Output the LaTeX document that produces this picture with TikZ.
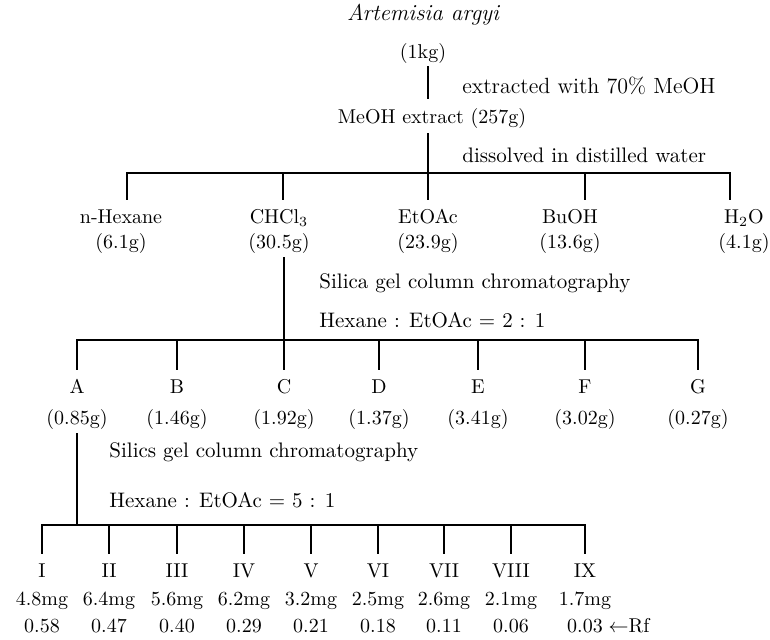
\documentclass[tikz,border=0pt]{standalone}
\usepackage{amsmath,amssymb}
\usepackage{tikz}
\usetikzlibrary{positioning}
\tikzset{
  frac/.style={font=\fontsize{10}{12}\selectfont, inner sep=1pt, text height=7pt, text depth=2pt},
  note/.style={font=\fontsize{10.5}{12}\selectfont, anchor=west, inner sep=0pt, text height=7.5pt, text depth=2pt},
  branch/.style={line width=0.8pt},
  drop/.style={branch, shorten >=3.5pt},
  stem/.style={branch, shorten <=1pt}}

\begin{document}
\begin{tikzpicture}[x=0.5pt, y=-0.5pt, node distance=1.5pt]
  \useasboundingbox (0,0) rectangle (770,639);
  % crude extract
  \node[frac, font=\fontsize{11.5}{13}\selectfont\itshape] (plant) at (423,15) {Artemisia argyi};
  \node[frac] (kg) at (423,53) {(1kg)};
  \node[frac] (meoh) at (432,118) {MeOH extract (257g)};
  \node[note, font=\fontsize{11}{13}\selectfont] (ext) at (462,88) {extracted with 70\% MeOH};
  \node[note] (dis) at (462,157) {dissolved in distilled water};
  % solvent partition
  \coordinate (j1) at (127,173); \coordinate (j2) at (283,173); \coordinate (j3) at (428,173);
  \coordinate (j4) at (585,173); \coordinate (j5) at (730,173);
  \node[frac] (hex) at (121,218) {n-Hexane};
  \node[frac] (chl) at (279,218) {CHCl$_3$};
  \node[frac] (eto) at (428,218) {EtOAc};
  \node[frac] (buoh) at (570,218) {BuOH};
  \node[frac] (wat) at (744,218) {H$_2$O};
  \node[frac, below=of hex] (hexw) {(6.1g)};
  \node[frac, below=of chl] (chlw) {(30.5g)};
  \node[frac, below=of eto] (etow) {(23.9g)};
  \node[frac, below=of buoh] (buohw) {(13.6g)};
  \node[frac, below=of wat] (watw) {(4.1g)};
  \draw[branch, shorten <=1pt, shorten >=4pt] (kg.south -| j3) -- (j3 |- meoh.north);
  \draw[branch, shorten <=2pt] (meoh.south -| j3) -- (j3);
  \draw[branch, shorten <=3.5pt, shorten >=3.5pt] (j1 |- hex.north) -- (j1) -- (j5) -- (j5 |- wat.north);
  \draw[drop] (j2) -- (j2 |- chl.north); \draw[drop] (j3) -- (j3 |- eto.north); \draw[drop] (j4) -- (j4 |- buoh.north);
  % CHCl3 fraction on silica
  \node[note] (sil1) at (319,283) {Silica gel column chromatography};
  \node[note] (elu1) at (319,322) {Hexane : EtOAc = 2 : 1};
  \coordinate (k1) at (77,340); \coordinate (k2) at (177,340); \coordinate (k3) at (284,340);
  \coordinate (k4) at (379,340); \coordinate (k5) at (478,340); \coordinate (k6) at (585,340);
  \coordinate (k7) at (698,340);
  \node[frac] (fa) at (77,388) {A};
  \node[frac] (fb) at (177,388) {B};
  \node[frac] (fc) at (284,388) {C};
  \node[frac] (fd) at (379,388) {D};
  \node[frac] (fe) at (478,388) {E};
  \node[frac] (ff) at (585,388) {F};
  \node[frac] (fg) at (698,388) {G};
  \node[frac, below=4.5pt of fa] (faw) {(0.85g)};
  \node[frac, below=4.5pt of fb] (fbw) {(1.46g)};
  \node[frac, below=4.5pt of fc] (fcw) {(1.92g)};
  \node[frac, below=4.5pt of fd] (fdw) {(1.37g)};
  \node[frac, below=4.5pt of fe] (few) {(3.41g)};
  \node[frac, below=4.5pt of ff] (ffw) {(3.02g)};
  \node[frac, below=4.5pt of fg] (fgw) {(0.27g)};
  \draw[stem] (chlw.south -| k3) -- (k3);
  \draw[branch, shorten <=3.5pt, shorten >=3.5pt] (k1 |- fa.north) -- (k1) -- (k7) -- (k7 |- fg.north);
  \draw[drop] (k2) -- (k2 |- fb.north); \draw[drop] (k3) -- (k3 |- fc.north); \draw[drop] (k4) -- (k4 |- fd.north);
  \draw[drop] (k5) -- (k5 |- fe.north); \draw[drop] (k6) -- (k6 |- ff.north);
  % fraction A on silica
  \node[note] (sil2) at (109,452) {Silics gel column chromatography};
  \node[note] (elu2) at (109,502) {Hexane : EtOAc = 5 : 1};
  \coordinate (m0) at (77,525);
  \coordinate (m1) at (42,525); \coordinate (m2) at (109,525); \coordinate (m3) at (177,525);
  \coordinate (m4) at (244,525); \coordinate (m5) at (311,525); \coordinate (m6) at (378,525);
  \coordinate (m7) at (444,525); \coordinate (m8) at (511,525); \coordinate (m9) at (585,525);
  \node[frac] (s1) at (42,572) {I};
  \node[frac] (s2) at (109,572) {II};
  \node[frac] (s3) at (177,572) {III};
  \node[frac] (s4) at (244,572) {IV};
  \node[frac] (s5) at (311,572) {V};
  \node[frac] (s6) at (378,572) {VI};
  \node[frac] (s7) at (444,572) {VII};
  \node[frac] (s8) at (511,572) {VIII};
  \node[frac] (s9) at (585,572) {IX};
  \node[frac, below=3pt of s1] (s1w) {4.8mg};
  \node[frac, below=3pt of s2] (s2w) {6.4mg};
  \node[frac, below=3pt of s3] (s3w) {5.6mg};
  \node[frac, below=3pt of s4] (s4w) {6.2mg};
  \node[frac, below=3pt of s5] (s5w) {3.2mg};
  \node[frac, below=3pt of s6] (s6w) {2.5mg};
  \node[frac, below=3pt of s7] (s7w) {2.6mg};
  \node[frac, below=3pt of s8] (s8w) {2.1mg};
  \node[frac, below=3pt of s9] (s9w) {1.7mg};
  \node[frac, below=2pt of s1w] (s1r) {0.58};
  \node[frac, below=2pt of s2w] (s2r) {0.47};
  \node[frac, below=2pt of s3w] (s3r) {0.40};
  \node[frac, below=2pt of s4w] (s4r) {0.29};
  \node[frac, below=2pt of s5w] (s5r) {0.21};
  \node[frac, below=2pt of s6w] (s6r) {0.18};
  \node[frac, below=2pt of s7w] (s7r) {0.11};
  \node[frac, below=2pt of s8w] (s8r) {0.06};
  \node[frac, below=2pt of s9w] (s9r) {0.03};
  \node[frac, right=0.5pt of s9r] (rf) {$\leftarrow$Rf};
  \draw[stem] (faw.south -| m0) -- (m0);
  \draw[branch, shorten <=3.5pt, shorten >=3.5pt] (m1 |- s1.north) -- (m1) -- (m9) -- (m9 |- s9.north);
  \draw[drop] (m2) -- (m2 |- s2.north); \draw[drop] (m3) -- (m3 |- s3.north); \draw[drop] (m4) -- (m4 |- s4.north);
  \draw[drop] (m5) -- (m5 |- s5.north); \draw[drop] (m6) -- (m6 |- s6.north); \draw[drop] (m7) -- (m7 |- s7.north);
  \draw[drop] (m8) -- (m8 |- s8.north);
\end{tikzpicture}
\end{document}
